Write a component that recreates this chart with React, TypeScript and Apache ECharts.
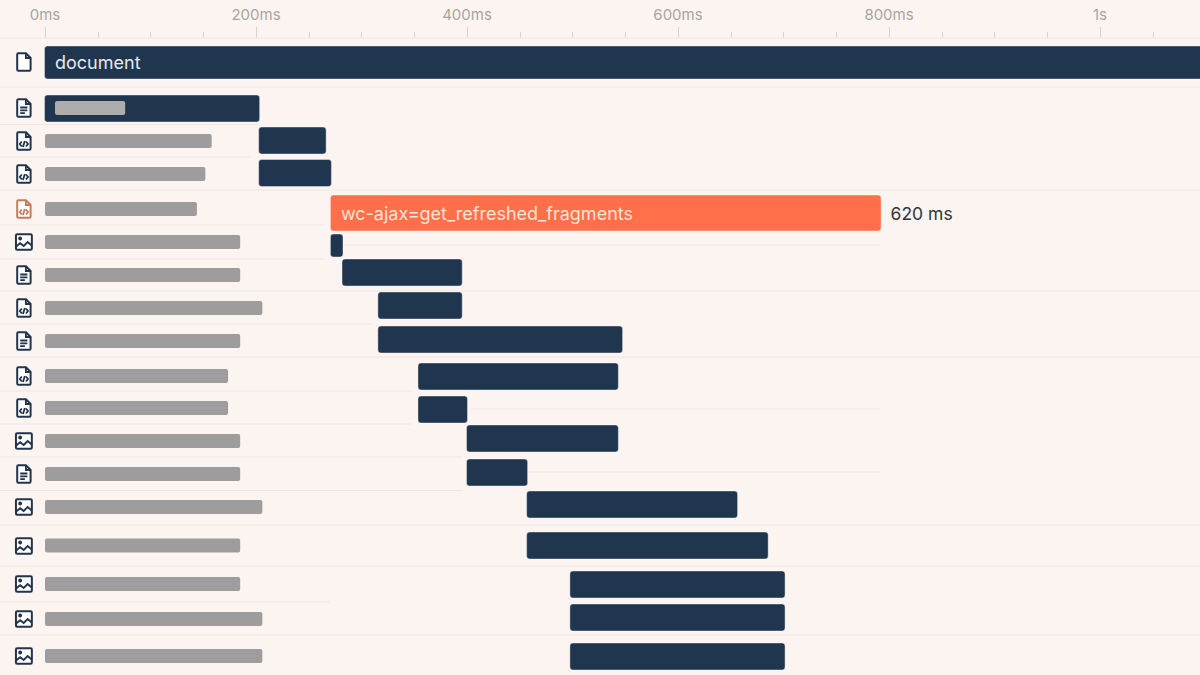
import React, { useEffect, useRef } from "react";
import * as echarts from "echarts";

// Time axis (ms)
const axisMax = 1100;
const tickStep = 200;

// Requests, top to bottom. Vertical values are read on a 38..675 y axis.
const rowIcons = ["blank", "text", "code", "code", "code", "image", "text", "code", "text", "code", "code", "image", "text", "image", "image", "image", "image", "image"];
const barCenters = [62.5, 108.5, 140.5, 173, 213, 245.5, 272.5, 305.5, 339.5, 376.5, 409.5, 438.5, 472.5, 504.5, 545.5, 584.5, 617.5, 656.5];
const barSizes = [33, 27, 27, 27, 36, 23, 27, 27, 27, 27, 27, 27, 27, 27, 27, 27, 27, 27];
const barStarts = [0, 0, 203, 203, 271, 271, 282, 316, 316, 354, 354, 400, 400, 457, 457, 498, 498, 498];
const barEnds = [1110, 203, 266, 271, 792, 282, 395, 395, 547, 543, 400, 543, 457, 656, 685, 701, 701, 701];
const barColors = ["navy", "navy", "navy", "navy", "orange", "navy", "navy", "navy", "navy", "navy", "navy", "navy", "navy", "navy", "navy", "navy", "navy", "navy"];
const barTexts = ["document", "", "", "", "wc-ajax=get_refreshed_fragments", "", "", "", "", "", "", "", "", "", "", "", "", ""];

// Blurred-out names of the requests
const nameCenters = [108, 141, 174, 209, 242, 275, 308, 341, 376, 408, 441, 474, 507, 545.5, 584, 619, 656];
const nameStarts = [9.5, 0, 0, 0, 0, 0, 0, 0, 0, 0, 0, 0, 0, 0, 0, 0, 0];
const nameEnds = [76, 158, 152, 144, 185, 185, 206, 185, 173.5, 173.5, 185, 185, 206, 185, 185, 206, 206];

const iconCenters = [62, 108, 141, 174, 209, 242, 275, 308, 341, 376, 408, 441, 474, 507, 546, 584, 619, 656];

// Row separators: y, from (ms), to (ms)
const ruleYs = [38, 87, 124.5, 157, 190, 225, 245, 259, 291, 324, 357, 391, 409, 424, 457, 472, 490.5, 525, 566, 602, 635];
const ruleFrom = [-43, -43, -43, -43, -43, -43, 283, -43, -43, -43, -43, -43, 404, -43, -43, 457, -43, -43, -43, -43, -43];
const ruleTo = [1110, 1110, 202, 195, 1110, 265, 792, 265, 1110, 310, 1110, 348, 792, 348, 395, 792, 396, 1110, 1110, 270, 1110];

const durationText = "620 ms";
const durationAt = 792;

const NAVY = "#20364f";
const ORANGE = "#ff6f4a";
const BG = "#fcf4f0";
const RULE = "#efe6e1";
const NAME = "#9f9c9e";
const ICON = "#22344c";
const ICON_ALERT = "#c9795a";

const FOLD = "M9.5 .8V5.5H14.2";
echarts.graphic.registerShape("iconDoc", echarts.graphic.extendPath("M2 .8H9.5L14.2 5.5V17Q14.2 18.2 13 18.2H2Q.8 18.2 .8 17V2Q.8 .8 2 .8Z", {}));
echarts.graphic.registerShape("iconBlank", echarts.graphic.extendPath(FOLD, {}));
echarts.graphic.registerShape("iconText", echarts.graphic.extendPath(FOLD + "M3.8 9H11M3.8 11.8H11M3.8 14.6H8.5", {}));
echarts.graphic.registerShape("iconCode", echarts.graphic.extendPath(FOLD + "M5.4 10 3.4 12.5 5.4 15M9.6 10 11.6 12.5 9.6 15M8.4 9.6 6.6 15.4", {}));
echarts.graphic.registerShape("iconBox", echarts.graphic.extendPath("M2 .8H15.5Q16.7 .8 16.7 2V15Q16.7 16.2 15.5 16.2H2Q.8 16.2 .8 15V2Q.8 .8 2 .8Z", {}));
echarts.graphic.registerShape("iconPicture", echarts.graphic.extendPath("M1 13 5 9.8 8.5 12.5 12.5 8.5 16.6 12M4 5a1 1 0 1 0 2 0a1 1 0 1 0 -2 0", {}));

const iconShape: Record<string, string> = { blank: "iconBlank", text: "iconText", code: "iconCode" };

function buildOption() {
  const bars = rowIcons.map((_, i) => [barCenters[i], barStarts[i], barEnds[i], barSizes[i]]);
  const names = nameCenters.map((y, i) => [y, nameStarts[i], nameEnds[i]]);
  const rules = ruleYs.map((y, i) => [y, ruleFrom[i], ruleTo[i]]);
  const icons = rowIcons.map((_, i) => [iconCenters[i], i]);
  const iconX = -20;

  return {
    animation: false,
    backgroundColor: BG,
    tooltip: { show: false },
    grid: { left: 45, width: 1160.5, top: 38, height: 637, outerBoundsMode: "none" },
    xAxis: {
      type: "value",
      position: "top",
      min: 0,
      max: axisMax,
      interval: tickStep,
      splitLine: { show: false },
      axisLine: { show: false },
      axisTick: { show: true, length: 11, lineStyle: { color: "#d8d1cc", width: 1 } },
      minorTick: { show: true, splitNumber: 4, length: 6, lineStyle: { color: "#d8d1cc", width: 1 } },
      axisLabel: {
        margin: 16,
        color: "#a9a4a1",
        fontFamily: "Inter",
        fontSize: 15,
        showMaxLabel: false,
        formatter: (v: number) => (v >= 1000 ? `${v / 1000}s` : `${v}ms`),
      },
    },
    yAxis: { type: "value", min: 38, max: 675, inverse: true, show: false },
    series: [
      {
        type: "custom",
        name: "rules",
        clip: false,
        z: 1,
        silent: true,
        encode: { x: [1, 2], y: 0 },
        data: rules,
        renderItem: (_p: any, api: any) => {
          const a = api.coord([api.value(1), api.value(0)]);
          const b = api.coord([api.value(2), api.value(0)]);
          return {
            type: "line",
            shape: { x1: a[0], y1: a[1], x2: b[0], y2: b[1] },
            style: { stroke: RULE, lineWidth: 1.2, fill: null },
          };
        },
      },
      {
        type: "custom",
        name: "timings",
        clip: false,
        z: 2,
        silent: true,
        encode: { x: [1, 2], y: 0 },
        data: bars,
        renderItem: (p: any, api: any) => {
          const i = p.dataIndex;
          const a = api.coord([api.value(1), api.value(0)]);
          const b = api.coord([api.value(2), api.value(0)]);
          const h = api.value(3);
          const children: any[] = [
            {
              type: "rect",
              shape: { x: a[0] - 0.5, y: a[1] - h / 2, width: b[0] - a[0] + 1, height: h, r: 3 },
              style: { fill: barColors[i] === "orange" ? ORANGE : NAVY, stroke: "rgba(255,255,255,0.4)", lineWidth: 1 },
            },
          ];
          if (barTexts[i]) {
            children.push({
              type: "text",
              x: a[0] + 10,
              y: a[1],
              style: {
                text: barTexts[i],
                fill: barColors[i] === "orange" ? "#fde3d9" : "#e6eaee",
                font: "400 18px Inter",
                verticalAlign: "middle",
                align: "left",
              },
            });
          }
          return { type: "group", children };
        },
      },
      {
        type: "custom",
        name: "names",
        clip: false,
        z: 3,
        silent: true,
        encode: { x: [1, 2], y: 0 },
        data: names,
        renderItem: (p: any, api: any) => {
          const a = api.coord([api.value(1), api.value(0)]);
          const b = api.coord([api.value(2), api.value(0)]);
          return {
            type: "rect",
            shape: { x: a[0], y: a[1] - 7, width: b[0] - a[0], height: 14, r: 2 },
            style: { fill: p.dataIndex === 0 ? "#aeadae" : NAME },
          };
        },
      },
      {
        type: "custom",
        name: "duration",
        clip: false,
        z: 3,
        silent: true,
        encode: { x: 1, y: 0 },
        data: [[barCenters[4], durationAt]],
        renderItem: (_p: any, api: any) => {
          const a = api.coord([api.value(1), api.value(0)]);
          return {
            type: "text",
            x: a[0] + 10,
            y: a[1],
            style: { text: durationText, fill: "#2f3542", font: "400 17.5px Inter", verticalAlign: "middle", align: "left" },
          };
        },
      },
      {
        type: "custom",
        name: "icons",
        clip: false,
        z: 3,
        silent: true,
        encode: { y: 0 },
        data: icons,
        renderItem: (p: any, api: any) => {
          const i = p.dataIndex;
          const kind = rowIcons[i];
          const c = api.coord([iconX, api.value(0)]);
          const color = barColors[i] === "orange" ? ICON_ALERT : ICON;
          if (kind === "image") {
            return {
              type: "group",
              x: c[0] - 8.75,
              y: c[1] - 8.5,
              children: [
                { type: "iconBox", style: { fill: "#fff", stroke: color, lineWidth: 2 } },
                { type: "iconPicture", style: { fill: null, stroke: color, lineWidth: 1.9 } },
              ],
            };
          }
          return {
            type: "group",
            x: c[0] - 7.5,
            y: c[1] - 9.5,
            children: [
              { type: "iconDoc", style: { fill: "#fff", stroke: color, lineWidth: 2 } },
              { type: iconShape[kind], style: { fill: null, stroke: color, lineWidth: 1.8 } },
            ],
          };
        },
      },
    ],
  };
}

export default function App() {
  const ref = useRef<HTMLDivElement>(null);
  useEffect(() => {
    document.body.style.margin = "0";
    const chart = echarts.init(ref.current!, null, { renderer: "svg" });
    chart.setOption(buildOption() as any);
    return () => chart.dispose();
  }, []);
  return <div ref={ref} style={{ width: 1200, height: 675 }} />;
}
